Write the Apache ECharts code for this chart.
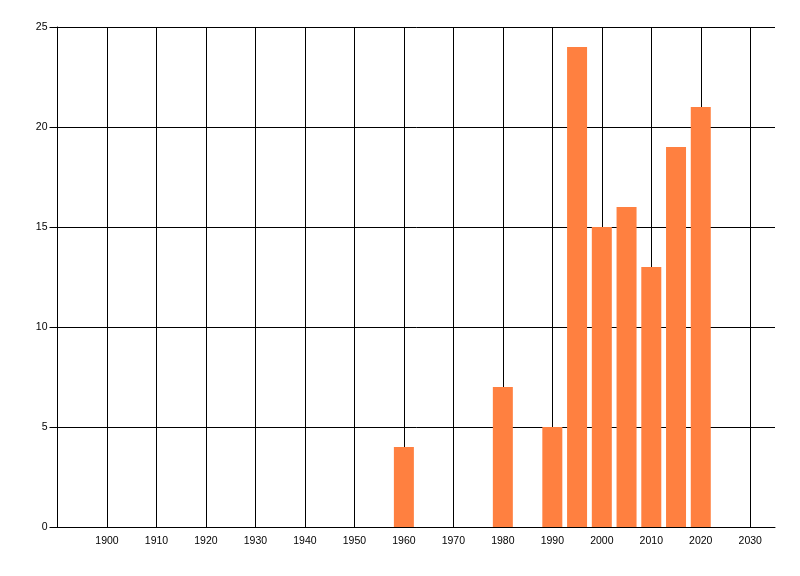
<!DOCTYPE html>
<html><head><meta charset="utf-8">
<script src="https://cdn.jsdelivr.net/npm/echarts@6/dist/echarts.min.js"></script>
<style>html,body{margin:0;padding:0;background:#fff}#c{width:800px;height:576px}</style>
</head><body><div id="c"></div>
<script>
const years = [1960, 1980, 1990, 1995, 2000, 2005, 2010, 2015, 2020];
const counts = [4, 7, 5, 24, 15, 16, 13, 19, 21];
const xMin = 1890, xMax = 2035, xStep = 10;
const yMin = 0, yMax = 25, yStep = 5;

const chart = echarts.init(document.getElementById('c'));
// split line colours: visible for every decade tick, hidden for the extra end tick at xMax
const nTicks = Math.floor((xMax - xMin) / xStep) + 1 + ((xMax - xMin) % xStep ? 1 : 0);
const splitColors = [];
for (let i = 0; i < nTicks; i++) splitColors.push(i === nTicks - 1 && (xMax - xMin) % xStep ? 'rgba(0,0,0,0)' : '#000');

const font = {fontFamily: 'Liberation Sans', fontSize: 10.5, color: '#000'};
chart.setOption({
  animation: false,
  backgroundColor: '#fff',
  grid: {left: 57.5, right: 25, top: 27, bottom: 49, containLabel: false},
  xAxis: {
    type: 'value', min: xMin, max: xMax, interval: xStep,
    axisLine: {show: true, lineStyle: {color: '#000', width: 1}},
    axisTick: {show: false},
    axisLabel: Object.assign({margin: 9, showMinLabel: false, showMaxLabel: false,
      formatter: v => (v === xMin || v === xMax) ? '' : String(v)}, font),
    splitLine: {show: true, lineStyle: {color: splitColors, width: 1}}
  },
  yAxis: {
    type: 'value', min: yMin, max: yMax, interval: yStep,
    axisLine: {show: true, lineStyle: {color: '#000', width: 1}},
    axisTick: {show: true, length: 8, lineStyle: {color: '#000'}},
    axisLabel: Object.assign({margin: 10}, font),
    splitLine: {show: true, lineStyle: {color: '#000', width: 1}}
  },
  series: [{
    type: 'bar',
    data: years.map((y, i) => [y, counts[i]]),
    barWidth: 20,
    itemStyle: {color: '#FF8040'},
    z: 3
  }]
});
</script></body></html>
